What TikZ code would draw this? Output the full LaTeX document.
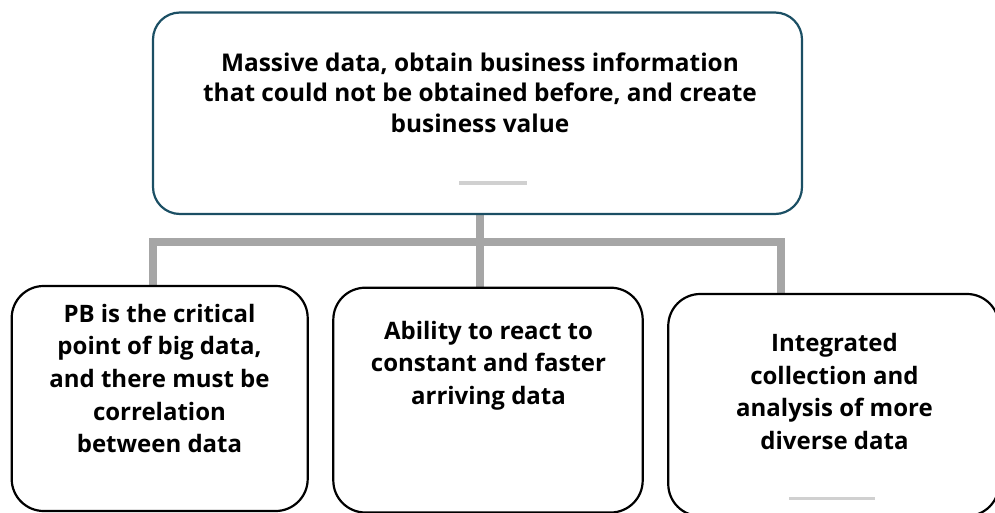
\documentclass[tikz,border=0pt]{standalone}
\usepackage{fontspec}
\setmainfont{Open Sans}
\usetikzlibrary{backgrounds}
\definecolor{tealedge}{HTML}{1B4F64}
\definecolor{conngray}{HTML}{A6A6A6}
\definecolor{bargray}{HTML}{D0D0D0}
\begin{document}
\begin{tikzpicture}[x=1pt,y=-1pt,
  topbox/.style={draw=tealedge,line width=2.2pt,fill=white,rounded corners=27pt,inner sep=0pt},
  subbox/.style={draw=black,line width=2.2pt,fill=white,rounded corners=32pt,inner sep=0pt},
  toptext/.style={align=center,font=\bfseries\fontsize{24.4}{30.7}\selectfont,inner sep=0pt},
  subtext/.style={align=center,font=\bfseries\fontsize{24}{32.7}\selectfont,inner sep=0pt},
  conn/.style={draw=conngray,line width=7.8pt,line join=miter,line cap=butt},
  deco/.style={draw=bargray,line cap=butt}]
\clip (0,0) rectangle (995,513);
% boxes
\node[topbox,minimum width=649pt,minimum height=201.5pt] (top) at (477.5,113.25) {};
\node[subbox,minimum width=296pt,minimum height=225pt] (b1) at (159.7,398.5) {};
\node[subbox,minimum width=309.4pt,minimum height=224.8pt] (b2) at (488,400.1) {};
\node[subbox,minimum width=330.7pt,minimum height=222pt] (b3) at (833.6,405) {};
% texts
\node[toptext] (tt) at (480,92.5) {Massive data, obtain business information\\that could not be obtained before, and create\\business value};
\node[subtext] (t1) at (159.5,378.5) {PB is the critical\\point of big data,\\and there must be\\correlation\\between data};
\node[subtext] (t2) at (488.5,365.5) {Ability to react to\\constant and faster\\arriving data};
\node[subtext] (t3) at (834.5,391.5) {Integrated\\collection and\\analysis of more\\diverse data};
% decorative bars
\draw[deco,line width=4pt] (459,183) -- (527,183);
\draw[deco,line width=3pt] (789,498) -- (875,498);
% connectors
\coordinate (L) at (153,242);
\coordinate (M) at (480,242);
\coordinate (R) at (781,242);
\begin{scope}[on background layer]
\draw[conn] (b1.north -| L) -- (L) -- (R) -- (b3.north -| R);
\draw[conn] (top.south -| M) -- (b2.north -| M);
\end{scope}
\end{tikzpicture}
\end{document}
